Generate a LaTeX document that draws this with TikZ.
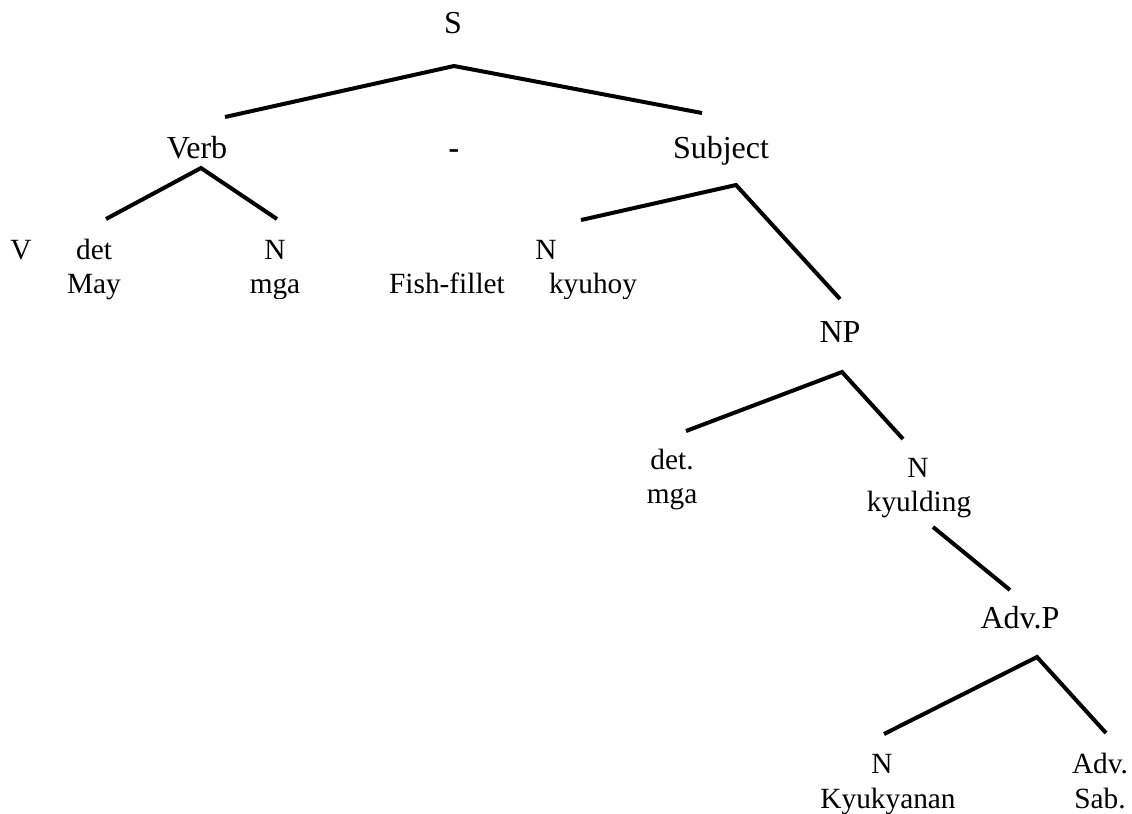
\documentclass[tikz,border=0pt]{standalone}
\usepackage{fontspec}
\setmainfont{Liberation Serif}
\usepackage{tikz}

\tikzset{
  cat/.style={font=\fontsize{12}{14}\selectfont,inner sep=0pt,anchor=base},
  word/.style={font=\fontsize{11}{13}\selectfont,inner sep=0pt,anchor=base},
  branch/.style={line width=1.5pt}
}

\begin{document}
\begin{tikzpicture}[x=0.375pt,y=-0.375pt]
  \useasboundingbox (0,0) rectangle (1132,813);
  % top level
  \node[cat] (s) at (453,33) {S};
  \node[cat] (verb) at (197,158) {Verb};
  \node[cat] (dash) at (454,158) {\textbf{-}};
  \node[cat] (subj) at (721,158) {Subject};
  \coordinate (s-top) at (454,66);
  \coordinate (s-l) at (225,117);
  \coordinate (s-r) at (702,113);
  \draw[branch] (s-l) -- (s-top) -- (s-r);
  % under Verb
  \node[word] (v) at (21,259) {V};
  \node[word] (det) at (94,259) {det};
  \node[word] (may) at (94,293) {May};
  \node[word] (n1) at (275,259) {N};
  \node[word] (fish) at (447,293) {Fish-fillet};
  \coordinate (verb-top) at (201,168);
  \coordinate (verb-l) at (106,219);
  \coordinate (verb-r) at (277,219);
  \draw[branch] (verb-l) -- (verb-top) -- (verb-r);
  % under Subject
  \node[word] (n2) at (546,259) {N};
  \begin{scope}
    \clip (230,270) rectangle (660,298);
    \node[word] (mga1) at (275,293) {mga};
    \node[word] (kyuhoy) at (593,293) {kyuhoy};
  \end{scope}
  \node[cat] (np) at (840,342) {NP};
  \coordinate (subj-top) at (736,185);
  \coordinate (subj-l) at (581,220);
  \coordinate (subj-r) at (840,299);
  \draw[branch] (subj-l) -- (subj-top) -- (subj-r);
  % NP
  \node[word] (det2) at (672,469) {det.};
  \node[word] (mga2) at (672,503) {mga};
  \node[word] (n3) at (918,477) {N};
  \node[word] (kyulding) at (919,511) {kyulding};
  \coordinate (np-top) at (842,372);
  \coordinate (np-l) at (686,431);
  \coordinate (np-r) at (903,439);
  \draw[branch] (np-l) -- (np-top) -- (np-r);
  % kyulding down to Adv.P
  \node[cat] (advp) at (1020,628) {Adv.P};
  \coordinate (ky-a) at (933,527);
  \coordinate (ky-b) at (1010,590);
  \draw[branch] (ky-a) -- (ky-b);
  % Adv.P
  \node[word] (n4) at (882,773) {N};
  \node[word] (kyuk) at (888,808) {Kyukyanan};
  \node[word] (adv) at (1100,773) {Adv.};
  \node[word] (sab) at (1100,808) {Sab.};
  \coordinate (advp-top) at (1037,657);
  \coordinate (advp-l) at (884,734);
  \coordinate (advp-r) at (1106,733);
  \draw[branch] (advp-l) -- (advp-top) -- (advp-r);
\end{tikzpicture}
\end{document}
